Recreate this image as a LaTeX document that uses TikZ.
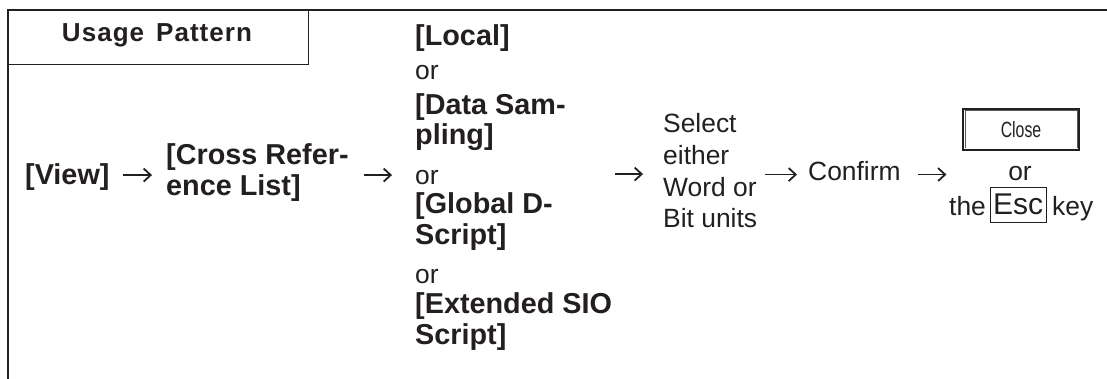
\documentclass[tikz,border=0pt]{standalone}
\usepackage{fontspec}
\setmainfont{Liberation Sans}
\newfontfamily\closefont[FakeStretch=0.72]{Liberation Sans}
\usetikzlibrary{arrows.meta}
\definecolor{ink}{HTML}{231F20}
\begin{document}
\begin{tikzpicture}[x=1pt,y=-1pt,
  reg/.style={inner sep=0pt, anchor=base west, text=ink, font=\fontsize{26.4}{30}\selectfont},
  bld/.style={reg, font=\fontsize{28.8}{30}\selectfont\bfseries},
  arr/.style={draw=ink, line width=1.8pt, -{Straight Barb[length=7pt,width=13pt]}},
  frame/.style={draw=ink, line width=2.2pt},
  thin/.style={draw=ink, line width=1pt},
  btn/.style={draw=ink, line width=1.2pt, minimum width=116pt, minimum height=41pt, inner sep=0pt, text=ink},
  esckey/.style={draw=ink, line width=0.9pt, minimum width=56pt, minimum height=35pt, inner sep=0pt, text=ink, font=\fontsize{30}{30}\selectfont}
]
\useasboundingbox (0,0) rectangle (1107,379);
% frame
\draw[frame] (1107,10) -- (8,10) -- (8,379);
\draw[thin] (8,10) rectangle (308,65);
\node[anchor=base, inner sep=0pt, text=ink, font=\fontsize{26}{26}\selectfont\bfseries\addfontfeature{LetterSpace=4}] (usage) at (157,42) {Usage\hspace{12pt}Pattern};
% left part
\node[bld] (view) at (25,185) {[View]};
\node[bld] (cr1) at (166,165) {[Cross Refer-};
\node[bld] (cr2) at (166,196) {ence List]};
% middle column
\node[bld] (m1) at (415,46) {[Local]};
\node[reg] (m2) at (415,80) {or};
\node[bld] (m3) at (415,115) {[Data Sam-};
\node[bld] (m4) at (415,145) {pling]};
\node[reg] (m5) at (415,185) {or};
\node[bld] (m6) at (415,214) {[Global D-};
\node[bld] (m7) at (415,244) {Script]};
\node[reg] (m8) at (415,283) {or};
\node[bld] (m9) at (415,313) {[Extended SIO};
\node[bld] (m10) at (415,344) {Script]};
% select column
\node[reg] (s1) at (663,133) {Select};
\node[reg] (s2) at (663,165) {either};
\node[reg] (s3) at (663,197) {Word or};
\node[reg] (s4) at (663,228) {Bit units};
\node[reg] (conf) at (808,181) {Confirm};
% close / esc
\node[btn] (close) at (1021,129.5) {\closefont\fontsize{22}{22}\selectfont Close};
\draw[ink!75, line width=0.8pt] ([shift={(2.5pt,2.5pt)}]close.south west) -- ([shift={(2.5pt,-2.5pt)}]close.north west) -- ([shift={(-2.5pt,-2.5pt)}]close.north east) -- ([shift={(-2.5pt,2.5pt)}]close.south east);
\node[reg, anchor=base] (or) at (1020,181) {or};
\node[reg] (the) at (949,215) {the};
\node[esckey] (esc) at (1018,204.5) {Esc};
\node[reg] (key) at (1052,215) {key};
% arrows
\draw[arr] ([xshift=13pt,yshift=2.5pt]view.east) -- ([xshift=-14pt,yshift=2.5pt]view.east -| cr1.west);
\draw[arr] ([xshift=15pt,yshift=2.5pt]view.east -| cr1.east) -- ([xshift=-23pt,yshift=2.5pt]view.east -| m5.west);
\draw[arr] ([xshift=3pt,yshift=3.5pt]view.east -| m9.east) -- ([xshift=-20pt,yshift=3.5pt]view.east -| s3.west);
\draw[arr] ([xshift=8pt,yshift=3pt]view.east -| s3.east) -- ([xshift=-11pt,yshift=3pt]view.east -| conf.west);
\draw[arr] ([xshift=17pt,yshift=3pt]view.east -| conf.east) -- ([xshift=-16pt,yshift=3pt]view.east -| close.west);
\end{tikzpicture}
\end{document}
